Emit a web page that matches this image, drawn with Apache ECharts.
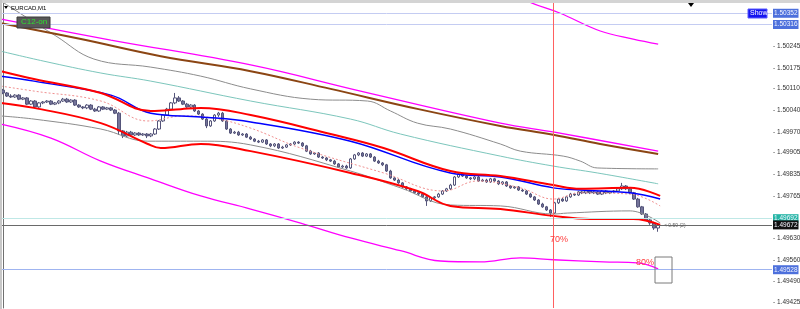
<!DOCTYPE html>
<html>
<head>
<meta charset="utf-8">
<script src="https://cdn.jsdelivr.net/npm/echarts@6/dist/echarts.min.js"></script>
<style>
  html, body { margin: 0; padding: 0; background: #fff; }
  #chart { width: 800px; height: 309px; }
</style>
</head>
<body>
<div id="chart"></div>
<script>
// EURCAD M1 candles: [open, close, low, high]
var candles = [
  [1.50105,1.50096,1.50092,1.50109],[1.50096,1.50086,1.50083,1.50099],[1.50086,1.50083,1.50080,1.50092],[1.50083,1.50089,1.50080,1.50092],
  [1.50089,1.50076,1.50073,1.50092],[1.50076,1.50080,1.50073,1.50083],[1.50080,1.50060,1.50057,1.50083],[1.50060,1.50070,1.50057,1.50073],
  [1.50070,1.50051,1.50048,1.50073],[1.50051,1.50064,1.50048,1.50067],[1.50064,1.50067,1.50060,1.50070],[1.50067,1.50070,1.50064,1.50073],
  [1.50070,1.50060,1.50057,1.50073],[1.50060,1.50064,1.50057,1.50067],[1.50064,1.50070,1.50060,1.50073],[1.50070,1.50076,1.50067,1.50080],
  [1.50076,1.50067,1.50064,1.50080],[1.50067,1.50073,1.50064,1.50076],[1.50073,1.50057,1.50054,1.50076],[1.50057,1.50051,1.50048,1.50060],
  [1.50051,1.50048,1.50044,1.50054],[1.50048,1.50057,1.50044,1.50060],[1.50057,1.50044,1.50041,1.50060],[1.50044,1.50038,1.50035,1.50048],
  [1.50038,1.50051,1.50035,1.50054],[1.50051,1.50044,1.50041,1.50054],[1.50044,1.50048,1.50041,1.50051],[1.50048,1.50041,1.50038,1.50051],
  [1.50041,1.50031,1.50028,1.50044],[1.50031,1.49974,1.49961,1.50035],[1.49974,1.49958,1.49951,1.49977],[1.49958,1.49970,1.49954,1.49974],
  [1.49970,1.49961,1.49958,1.49974],[1.49961,1.49967,1.49958,1.49970],[1.49967,1.49961,1.49958,1.49970],[1.49961,1.49964,1.49958,1.49967],
  [1.49964,1.49958,1.49951,1.49967],[1.49958,1.49964,1.49954,1.49967],[1.49964,1.49980,1.49961,1.49983],[1.49980,1.50006,1.49977,1.50009],
  [1.50006,1.50025,1.50003,1.50028],[1.50025,1.50044,1.50022,1.50048],[1.50044,1.50064,1.50041,1.50067],[1.50064,1.50080,1.50060,1.50096],
  [1.50080,1.50070,1.50067,1.50086],[1.50070,1.50060,1.50057,1.50073],[1.50060,1.50051,1.50048,1.50064],[1.50051,1.50057,1.50048,1.50060],
  [1.50057,1.50038,1.50035,1.50060],[1.50038,1.50028,1.50025,1.50041],[1.50028,1.50012,1.50009,1.50031],[1.50012,1.49990,1.49983,1.50015],
  [1.49990,1.50006,1.49987,1.50009],[1.50006,1.50025,1.50003,1.50028],[1.50025,1.50031,1.50019,1.50035],[1.50031,1.50006,1.50003,1.50035],
  [1.50006,1.49980,1.49977,1.50009],[1.49980,1.49967,1.49964,1.49983],[1.49967,1.49970,1.49964,1.49974],[1.49970,1.49961,1.49958,1.49974],
  [1.49961,1.49964,1.49958,1.49967],[1.49964,1.49954,1.49951,1.49967],[1.49954,1.49948,1.49945,1.49958],[1.49948,1.49941,1.49938,1.49951],
  [1.49941,1.49938,1.49935,1.49945],[1.49938,1.49945,1.49935,1.49948],[1.49945,1.49932,1.49929,1.49948],[1.49932,1.49926,1.49922,1.49935],
  [1.49926,1.49932,1.49922,1.49935],[1.49932,1.49919,1.49916,1.49935],[1.49919,1.49922,1.49916,1.49926],[1.49922,1.49929,1.49919,1.49932],
  [1.49929,1.49932,1.49926,1.49935],[1.49932,1.49938,1.49929,1.49941],[1.49938,1.49935,1.49932,1.49941],[1.49935,1.49926,1.49922,1.49938],
  [1.49926,1.49909,1.49906,1.49929],[1.49909,1.49900,1.49897,1.49913],[1.49900,1.49903,1.49897,1.49906],[1.49903,1.49890,1.49887,1.49906],
  [1.49890,1.49887,1.49884,1.49893],[1.49887,1.49881,1.49877,1.49890],[1.49881,1.49877,1.49874,1.49884],[1.49877,1.49868,1.49865,1.49881],
  [1.49868,1.49858,1.49855,1.49871],[1.49858,1.49861,1.49855,1.49865],[1.49861,1.49855,1.49852,1.49865],[1.49855,1.49884,1.49852,1.49887],
  [1.49884,1.49897,1.49881,1.49900],[1.49897,1.49903,1.49893,1.49906],[1.49903,1.49893,1.49890,1.49906],[1.49893,1.49900,1.49890,1.49903],
  [1.49900,1.49890,1.49887,1.49903],[1.49890,1.49877,1.49874,1.49893],[1.49877,1.49871,1.49868,1.49881],[1.49871,1.49865,1.49861,1.49874],
  [1.49865,1.49845,1.49842,1.49868],[1.49845,1.49823,1.49820,1.49849],[1.49823,1.49816,1.49813,1.49826],[1.49816,1.49807,1.49804,1.49820],
  [1.49807,1.49794,1.49791,1.49810],[1.49794,1.49788,1.49784,1.49797],[1.49788,1.49781,1.49778,1.49791],[1.49781,1.49775,1.49771,1.49784],
  [1.49775,1.49771,1.49765,1.49778],[1.49771,1.49762,1.49759,1.49775],[1.49762,1.49749,1.49733,1.49765],[1.49749,1.49759,1.49746,1.49762],
  [1.49759,1.49762,1.49755,1.49765],[1.49762,1.49771,1.49759,1.49775],[1.49771,1.49781,1.49768,1.49784],[1.49781,1.49788,1.49778,1.49791],
  [1.49788,1.49800,1.49784,1.49804],[1.49800,1.49826,1.49797,1.49829],[1.49826,1.49836,1.49823,1.49839],[1.49836,1.49829,1.49826,1.49839],
  [1.49829,1.49823,1.49820,1.49832],[1.49823,1.49820,1.49816,1.49826],[1.49820,1.49826,1.49816,1.49829],[1.49826,1.49813,1.49810,1.49829],
  [1.49813,1.49816,1.49810,1.49820],[1.49816,1.49810,1.49807,1.49820],[1.49810,1.49820,1.49807,1.49823],[1.49820,1.49813,1.49810,1.49823],
  [1.49813,1.49804,1.49800,1.49816],[1.49804,1.49810,1.49800,1.49813],[1.49810,1.49797,1.49794,1.49813],[1.49797,1.49791,1.49788,1.49800],
  [1.49791,1.49794,1.49788,1.49797],[1.49794,1.49784,1.49781,1.49797],[1.49784,1.49781,1.49778,1.49788],[1.49781,1.49771,1.49768,1.49784],
  [1.49771,1.49762,1.49759,1.49775],[1.49762,1.49752,1.49749,1.49765],[1.49752,1.49739,1.49736,1.49755],[1.49739,1.49730,1.49727,1.49743],
  [1.49730,1.49720,1.49717,1.49733],[1.49720,1.49710,1.49698,1.49723],[1.49710,1.49743,1.49707,1.49746],[1.49743,1.49755,1.49739,1.49759],
  [1.49755,1.49749,1.49746,1.49759],[1.49749,1.49762,1.49746,1.49765],[1.49762,1.49771,1.49759,1.49775],[1.49771,1.49768,1.49765,1.49775],
  [1.49768,1.49778,1.49765,1.49781],[1.49778,1.49775,1.49771,1.49781],[1.49775,1.49781,1.49771,1.49784],[1.49781,1.49775,1.49771,1.49784],
  [1.49775,1.49778,1.49771,1.49781],[1.49778,1.49771,1.49768,1.49781],[1.49771,1.49781,1.49768,1.49784],[1.49781,1.49775,1.49771,1.49784],
  [1.49775,1.49778,1.49771,1.49781],[1.49778,1.49781,1.49775,1.49784],[1.49781,1.49788,1.49778,1.49791],[1.49788,1.49797,1.49784,1.49807],
  [1.49797,1.49788,1.49784,1.49800],[1.49788,1.49775,1.49771,1.49791],[1.49775,1.49755,1.49752,1.49778],[1.49755,1.49730,1.49727,1.49759],
  [1.49730,1.49707,1.49704,1.49733],[1.49707,1.49688,1.49685,1.49710],[1.49688,1.49678,1.49672,1.49691],[1.49678,1.49662,1.49656,1.49682],
  [1.49662,1.49672,1.49650,1.49675]
];

// indicator lines: [bar index, price]
var brownMA = [[-0.5,1.50320],[19.5,1.50269],[39.5,1.50214],[62,1.50166],[82,1.50109],[104,1.50044],[124.5,1.49990],[138,1.49961],[149.5,1.49932],[164,1.49900]];
var magentaMid = [[-0.5,1.50333],[27,1.50266],[62,1.50186],[89.5,1.50102],[124.5,1.49999],[138,1.49970],[164,1.49909]];
var magentaTop = [[119.5,1.50471],[131.25,1.50391],[139.5,1.50352],[149.5,1.50295],[157.75,1.50269],[164,1.50253]];
var magentaLow = [[-0.5,1.49996],[12,1.49951],[24.5,1.49877],[37,1.49820],[49.5,1.49765],[62,1.49723],[74.5,1.49678],[87,1.49630],[99.5,1.49589],[109.5,1.49556],[119.5,1.49553],[129.5,1.49566],[137.75,1.49560],[150.25,1.49553],[158.75,1.49550],[164,1.49531]];
var grayTop = [[-0.5,1.50391],[13.25,1.50279],[22.75,1.50205],[37,1.50179],[49.5,1.50150],[62,1.50109],[77,1.50076],[91.25,1.50070],[97,1.50038],[103.75,1.49999],[112,1.49980],[124.5,1.49932],[129.5,1.49909],[140.25,1.49893],[144.5,1.49877],[148.75,1.49855],[164,1.49852]];
var tealMA = [[-0.5,1.50230],[10.25,1.50198],[24.5,1.50160],[37,1.50134],[62,1.50070],[87,1.50012],[99.5,1.49964],[124.5,1.49893],[137.75,1.49861],[148.75,1.49839],[164,1.49804]];
var redUp = [[-0.5,1.50166],[7.75,1.50141],[24.5,1.50096],[37,1.50038],[44.5,1.50044],[49.5,1.50048],[62,1.50025],[82,1.49964],[95.25,1.49919],[112,1.49845],[124.5,1.49829],[137.75,1.49800],[144.5,1.49788],[157,1.49791],[164.5,1.49765]];
var blueMA = [[-0.5,1.50150],[7.75,1.50134],[27,1.50089],[37,1.50031],[49.5,1.50019],[62,1.50003],[87,1.49941],[112,1.49839],[124.5,1.49826],[137.75,1.49791],[144.5,1.49784],[157,1.49775],[164.5,1.49755]];
var midDots = [[-0.5,1.50118],[7.75,1.50102],[24.5,1.50070],[36.25,1.50006],[45.25,1.50022],[52.75,1.50015],[62,1.49983],[74.5,1.49919],[95.25,1.49839],[110.25,1.49781],[118.75,1.49813],[129.5,1.49791],[137.75,1.49755],[144.5,1.49775],[157,1.49771],[164.5,1.49733]];
var redLow = [[-0.5,1.50064],[7.75,1.50048],[24.5,1.49999],[36.25,1.49932],[39.5,1.49919],[49.5,1.49932],[62,1.49909],[87,1.49839],[103.75,1.49781],[112,1.49733],[124.5,1.49723],[137.75,1.49701],[147,1.49691],[157.75,1.49691],[164.5,1.49672]];
var grayLow = [[-0.5,1.50022],[7.75,1.50012],[24.5,1.49980],[36.25,1.49941],[49.5,1.49941],[62,1.49929],[87,1.49845],[99.5,1.49791],[112,1.49736],[124.5,1.49733],[137.75,1.49707],[141.25,1.49710],[157,1.49717],[164.5,1.49678]];

// price scale labels and marked levels
var yTicks = ['1.50245','1.50175','1.50110','1.50040','1.49970','1.49905','1.49835','1.49765','1.49630','1.49560','1.49490','1.49425'];
var levelPrices = [1.50352, 1.50316, 1.49692, 1.49672, 1.49528];
var levelLineColors = ['#c4ccf2', '#c4ccf2', '#bfe8e6', '#6a6a6a', '#9fb4f0'];
var levelLabelColors = ['#4d70dc', '#4d70dc', '#25b5a5', '#111111', '#4d70dc'];
var vLineBar = 137.75;
var totalSlots = 193;

var cats = [];
for (var i = 0; i < totalSlots; i++) cats.push(String(i));

function lineSeries(data, color, width, type) {
  return {
    type: 'line', xAxisIndex: 1, data: data, smooth: 0.4, symbol: 'none', silent: true,
    lineStyle: { color: color, width: width, type: type || 'solid' }
  };
}

var levelLines = levelPrices.map(function (p, k) {
  return {
    yAxis: p,
    lineStyle: { color: levelLineColors[k], width: 1, type: 'solid' },
    label: {
      show: true, position: 'end', distance: 1,
      formatter: p.toFixed(5),
      color: '#f4f6ff', backgroundColor: levelLabelColors[k],
      fontSize: 6.5, fontFamily: 'Liberation Sans', padding: [1, 1]
    }
  };
});

// level lines and the red vertical line ride on the lower envelope series
var lowSeries = lineSeries(magentaLow, '#ff00ff', 1.3);
lowSeries.markLine = {
  silent: true, symbol: 'none', animation: false, precision: 5,
  data: levelLines.concat([{
    xAxis: vLineBar,
    lineStyle: { color: '#ff6060', width: 1, type: 'solid' },
    label: { show: false }
  }])
};

var option = {
  animation: false,
  backgroundColor: '#ffffff',
  grid: { left: 1, right: 28, top: 3, bottom: 1, containLabel: false, outerBoundsMode: 'none' },
  xAxis: [
    { type: 'category', data: cats, boundaryGap: true, show: false },
    { type: 'value', min: -0.5, max: totalSlots - 0.5, show: false }
  ],
  yAxis: {
    type: 'value', position: 'right', scale: true,
    min: 1.49405, max: 1.50385, interval: 0.00005,
    splitLine: { show: false },
    axisLine: { show: true, lineStyle: { color: '#707070', width: 1 } },
    axisTick: { show: false },
    axisLabel: {
      fontSize: 6.5, fontFamily: 'Liberation Sans', color: '#333', margin: 1,
      formatter: function (v) {
        var s = v.toFixed(5);
        return yTicks.indexOf(s) >= 0 ? '- ' + s : '';
      }
    }
  },
  series: [
    lowSeries,
    lineSeries(magentaTop, '#ff00ff', 1.3),
    lineSeries(grayTop, '#8c8c8c', 1),
    lineSeries(tealMA, '#7cc6bc', 1),
    lineSeries(grayLow, '#8c8c8c', 1),
    lineSeries(midDots, '#f09090', 1, [2, 2]),
    lineSeries(blueMA, '#0000ff', 1.5),
    lineSeries(redUp, '#ff0000', 2),
    lineSeries(redLow, '#ff0000', 2),
    lineSeries(brownMA, '#8b4513', 2),
    lineSeries(magentaMid, '#ff00ff', 1.3),
    {
      type: 'candlestick', xAxisIndex: 0, data: candles, barWidth: 3, silent: true,
      itemStyle: {
        color: '#ffffff', color0: '#74749a',
        borderColor: '#55557a', borderColor0: '#55557a', borderWidth: 1
      }
    }
  ],
  graphic: [
    { type: 'rect', z: 100, shape: { x: 0, y: 0, width: 800, height: 3 }, style: { fill: '#d4d4d4' }, silent: true },
    { type: 'polygon', z: 100, shape: { points: [[688, 3], [694, 3], [691, 7]] }, style: { fill: '#000' }, silent: true },
    { type: 'rect', z: 100, shape: { x: 0, y: 0, width: 2, height: 309 }, style: { fill: '#c8c8c8' }, silent: true },
    { type: 'polygon', z: 100, shape: { points: [[4, 6], [8, 6], [6, 9]] }, style: { fill: '#000' }, silent: true },
    { type: 'text', z: 100, left: 11, top: 5, style: { text: 'EURCAD,M1', fontSize: 6, fontFamily: 'Liberation Sans', fill: '#000' } },
    { type: 'rect', z: 100, shape: { x: 17, y: 17, width: 33, height: 11 }, style: { fill: '#585858', stroke: '#3a3a3a', lineWidth: 1 }, silent: true },
    { type: 'text', z: 101, left: 21, top: 18, style: { text: 'C12-on', fontSize: 8, fontFamily: 'Liberation Sans', fill: '#2ee02e' } },
    { type: 'rect', z: 100, shape: { x: 748, y: 9, width: 19, height: 9 }, style: { fill: '#1515f0', stroke: '#5a5aff', lineWidth: 1 }, silent: true },
    { type: 'text', z: 101, left: 750, top: 10, style: { text: 'Show', fontSize: 7, fontFamily: 'Liberation Sans', fill: '#fff' } },
    { type: 'text', z: 100, left: 550, top: 235, style: { text: '70%', fontSize: 9, fontFamily: 'Liberation Sans', fill: '#ff3c3c' } },
    { type: 'text', z: 100, left: 636, top: 258, style: { text: '80%', fontSize: 9, fontFamily: 'Liberation Sans', fill: '#ff3c3c' } },
    { type: 'rect', z: 100, shape: { x: 655, y: 257, width: 17, height: 26 }, style: { fill: 'none', stroke: '#7a7a7a', lineWidth: 1 }, silent: true },
    { type: 'text', z: 100, left: 664, top: 223, style: { text: '< 0.59 (2)', fontSize: 5, fontFamily: 'Liberation Sans', fill: '#666' } }
  ]
};

var myChart = echarts.init(document.getElementById('chart'));
myChart.setOption(option);
</script>
</body>
</html>
